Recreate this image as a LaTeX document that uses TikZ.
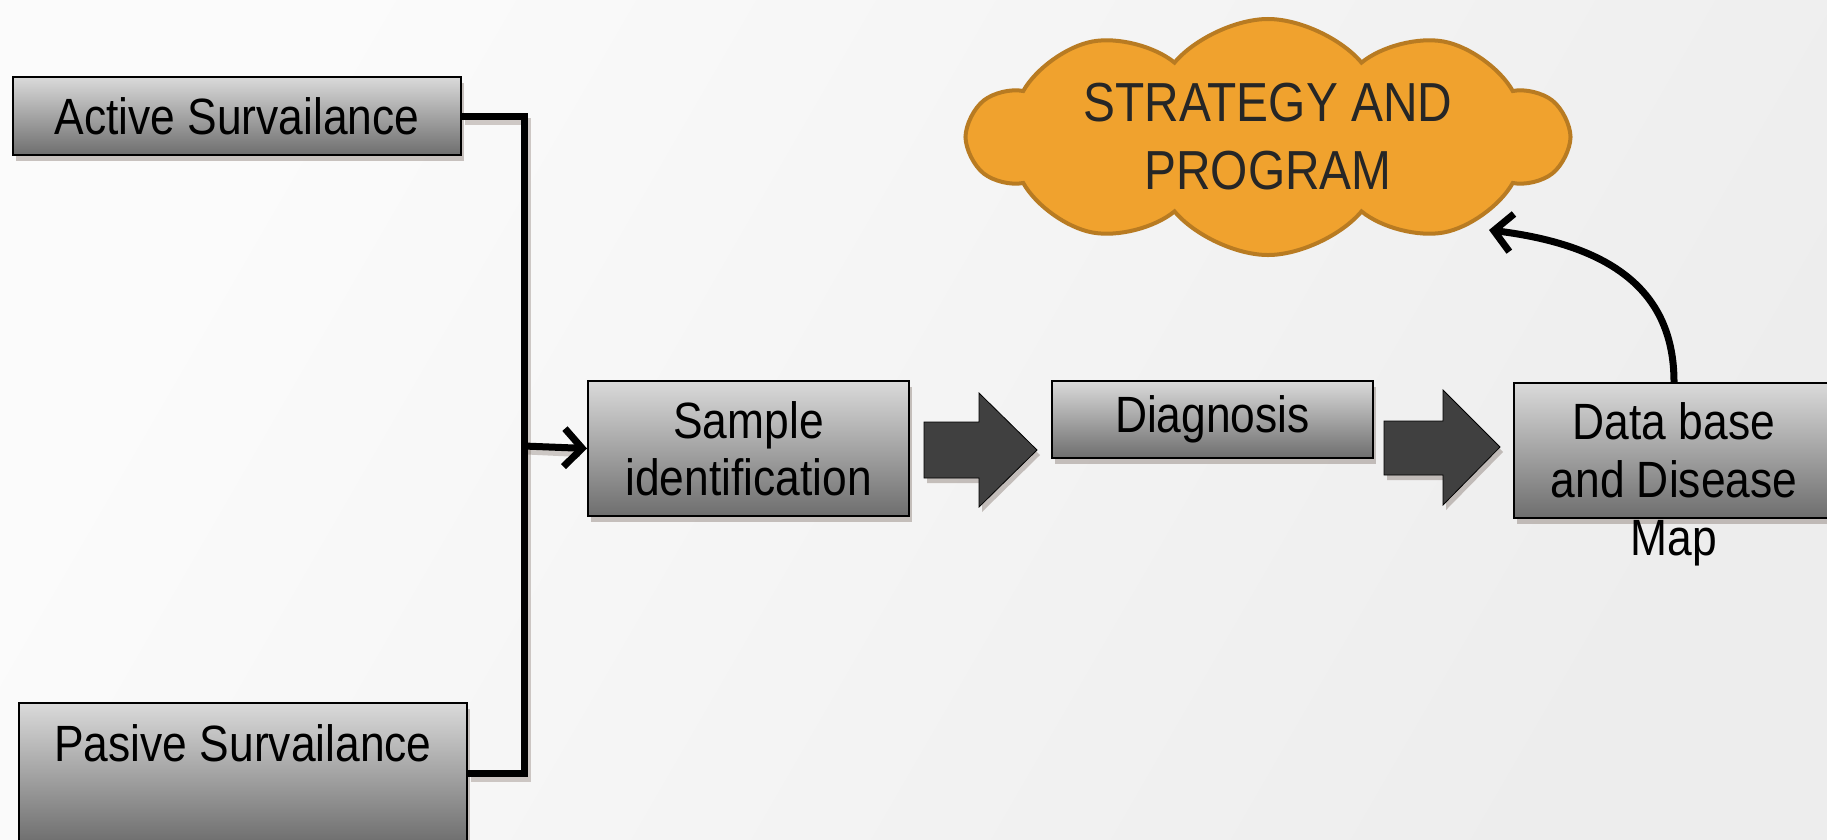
\documentclass[tikz,border=0pt]{standalone}
\usepackage{fontspec}
\setmainfont{Liberation Sans}[FakeStretch=0.87]
\usetikzlibrary{shapes.symbols,arrows.meta,shadows,calc}
\definecolor{cloudfill}{HTML}{F0A22E}
\definecolor{clouddraw}{HTML}{B87B22}
\definecolor{boxtop}{HTML}{DADADA}
\definecolor{boxbot}{HTML}{6E6E6E}
\definecolor{blockarrow}{HTML}{404040}
\definecolor{shadowc}{HTML}{6B5A50}
\tikzset{
  boxnode/.style={draw=black, line width=2pt, top color=boxtop, bottom color=boxbot,
    inner sep=0pt, font=\fontsize{51}{57}\selectfont, align=center,
    drop shadow={shadow xshift=3pt, shadow yshift=-6pt, fill=shadowc, opacity=0.35}},
  txtnode/.style={inner sep=0pt, font=\fontsize{51}{58}\selectfont, align=center},
  conn/.style={line width=7pt, black, line join=miter},
  connshadow/.style={line width=7pt, shadowc, opacity=0.3, line join=miter},
  tipa/.style={-{Straight Barb[length=18pt, width=38pt, line width=7pt]}},
  blockar/.style={fill=blockarrow, draw=black, line width=0.8pt,
    drop shadow={shadow xshift=3pt, shadow yshift=-5pt, fill=shadowc, opacity=0.35}},
  cloudnode/.style={cloud, cloud puffs=10, cloud puff arc=100, cloud ignores aspect, fill=cloudfill, draw=clouddraw,
    line width=4pt, minimum width=598pt, minimum height=236pt, inner sep=0pt,
    text=black!85, font=\fontsize{55}{68}\selectfont, align=center}
}
\begin{document}
\begin{tikzpicture}[x=1pt,y=-1pt]
\useasboundingbox (0,0) rectangle (1827,839);
\shade[left color=white!97!gray, right color=gray!14, shading angle=60] (0,0) rectangle (1827,839);

% boxes
\node[boxnode, minimum width=448pt, minimum height=78pt] (act) at (237,116) {Active Survailance};
\node[boxnode, minimum width=448pt, minimum height=140pt] (pas) at (243,773) {};
\node[txtnode] (pastxt) at (243,743) {Pasive Survailance};
\node[boxnode, minimum width=321pt, minimum height=135pt] (samp) at (748.5,448.5) {Sample\\identification};
\node[boxnode, minimum width=321pt, minimum height=77pt] (diag) at (1212.5,419.5) {Diagnosis};
\node[boxnode, minimum width=320pt, minimum height=135pt] (db) at (1674,450.5) {};
\node[txtnode] (dbtxt) at (1674,484) {Data base\\and Disease\\Map};

% cloud
\node[cloudnode] (cloud) at (1268,137) {STRATEGY AND\\PROGRAM};

% connectors
\coordinate (j) at (524,446);
\begin{scope}[transform canvas={shift={(3pt,-5pt)}}]
\draw[connshadow] (act.east) -| (j) |- (pas.east);
\draw[connshadow] (j) -- ($(samp.west)+(-10,0)$);
\end{scope}
\draw[conn] (act.east) -| (j) |- (pas.east);
\draw[conn, tipa] (j) -- (samp.west);

% block arrows
\draw[blockar] (924,422) -- (979,422) -- (979,393) -- (1037,450) -- (979,507) -- (979,478) -- (924,478) -- cycle;
\draw[blockar] (1384,421) -- (1443,421) -- (1443,390) -- (1500,447) -- (1443,505) -- (1443,475) -- (1384,475) -- cycle;

% curved arrow to cloud
\coordinate (ctip) at (1489,230);
\draw[conn, tipa] (db.north) .. controls (1674,290) and (1610,245) .. (ctip);
\end{tikzpicture}
\end{document}
